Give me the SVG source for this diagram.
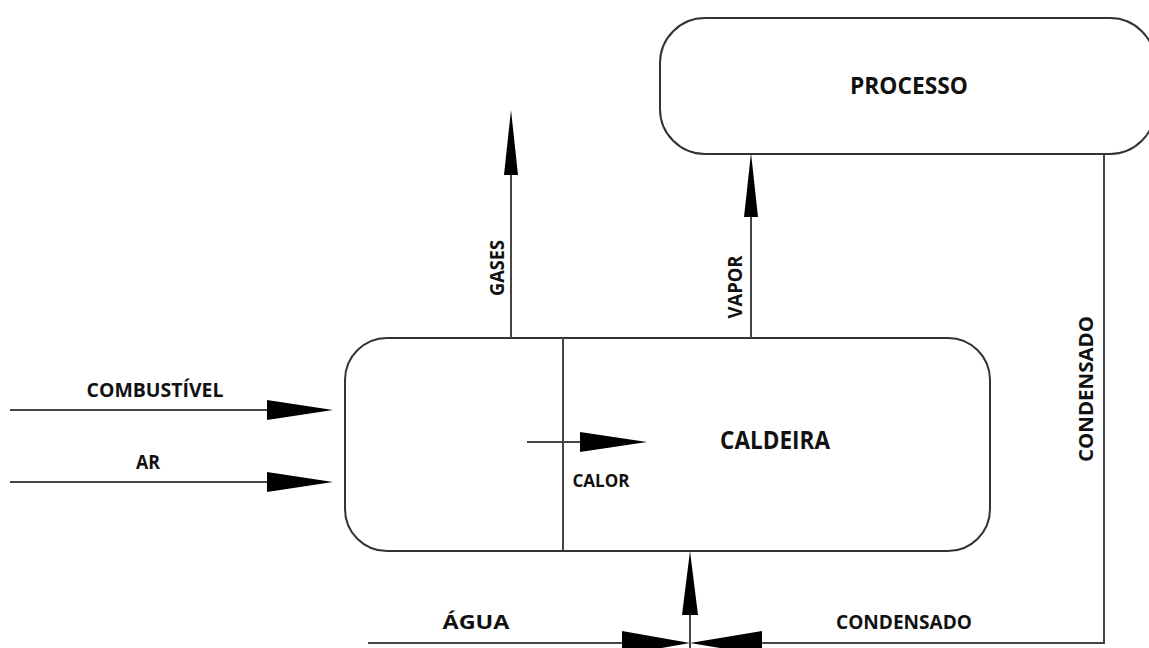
<svg xmlns="http://www.w3.org/2000/svg" width="1149" height="648" viewBox="0 0 1149 648">
<style>
.box{fill:#fff;stroke:#333;stroke-width:2}
.ln{fill:none;stroke:#444;stroke-width:2}
.hd{fill:#000;stroke:none}
.t{font-family:"Open Sans","Liberation Sans",sans-serif;font-weight:bold;fill:#111}
</style>
<rect width="1149" height="648" fill="#fff"/>
<g id="processo">
<rect class="box" x="660" y="18" width="495" height="136" rx="45" ry="45"/>
<text class="t" x="909" y="94" font-size="23" text-anchor="middle" textLength="118" lengthAdjust="spacingAndGlyphs">PROCESSO</text>
</g>
<g id="caldeira">
<rect class="box" x="345" y="338" width="645" height="213" rx="42" ry="42"/>
<line class="ln" x1="563" y1="338" x2="563" y2="551"/>
<text class="t" x="775" y="449" font-size="25" text-anchor="middle" textLength="110" lengthAdjust="spacingAndGlyphs">CALDEIRA</text>
</g>
<g id="connectors">
<line class="ln" x1="10" y1="410" x2="270" y2="410"/>
<polygon class="hd" points="267,400 333,410 267,420"/>
<line class="ln" x1="10" y1="482" x2="270" y2="482"/>
<polygon class="hd" points="267,472 333,482 267,492"/>
<line class="ln" x1="527" y1="442" x2="582" y2="442"/>
<polygon class="hd" points="580,432 647,442 580,452"/>
<line class="ln" x1="511" y1="338" x2="511" y2="172"/>
<polygon class="hd" points="504,175 511,110 518,175"/>
<line class="ln" x1="751" y1="338" x2="751" y2="214"/>
<polygon class="hd" points="744,217 751,153 758,217"/>
<polyline class="ln" points="1104,154 1104,643 760,643"/>
<polygon class="hd" points="762,631 690,643 762,655"/>
<line class="ln" x1="368" y1="643" x2="624" y2="643"/>
<polygon class="hd" points="622,631 690,643 622,655"/>
<line class="ln" x1="690" y1="648" x2="690" y2="612"/>
<polygon class="hd" points="682,615 690,551 698,615"/>
</g>
<g id="labels">
<text class="t" x="155" y="397" font-size="20" text-anchor="middle" textLength="137" lengthAdjust="spacingAndGlyphs">COMBUSTÍVEL</text>
<text class="t" x="148" y="469" font-size="20" text-anchor="middle" textLength="24" lengthAdjust="spacingAndGlyphs">AR</text>
<text class="t" x="601" y="487" font-size="17" text-anchor="middle" textLength="57" lengthAdjust="spacingAndGlyphs">CALOR</text>
<text class="t" x="476" y="629" font-size="19" text-anchor="middle" textLength="67" lengthAdjust="spacingAndGlyphs">ÁGUA</text>
<text class="t" x="904" y="629" font-size="19" text-anchor="middle" textLength="136" lengthAdjust="spacingAndGlyphs">CONDENSADO</text>
<text class="t" transform="translate(504,268) rotate(-90)" x="0" y="0" font-size="19" text-anchor="middle" textLength="56" lengthAdjust="spacingAndGlyphs">GASES</text>
<text class="t" transform="translate(742,287) rotate(-90)" x="0" y="0" font-size="19" text-anchor="middle" textLength="63" lengthAdjust="spacingAndGlyphs">VAPOR</text>
<text class="t" transform="translate(1093,389) rotate(-90)" x="0" y="0" font-size="19" text-anchor="middle" textLength="146" lengthAdjust="spacingAndGlyphs">CONDENSADO</text>
</g>
</svg>
